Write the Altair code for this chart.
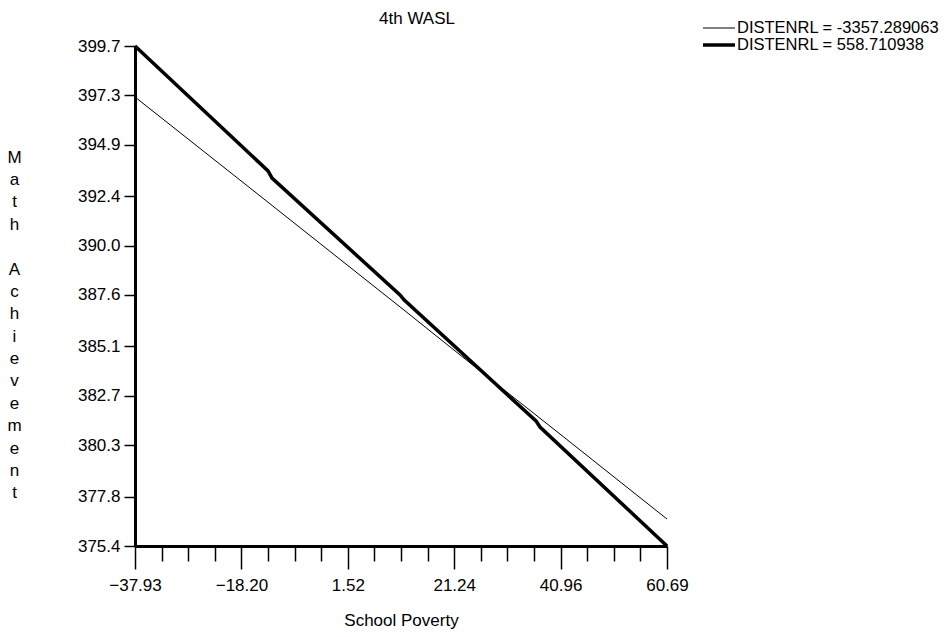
import altair as alt
import pandas as pd

# ---- data ----
series_labels = ["DISTENRL = -3357.289063", "DISTENRL = 558.710938"]
series_widths = [1, 3.5]

thin_x = [-37.93, -16.61, 11.20, 26.03, 40.86, 60.69]
thin_y = [397.22, 392.80, 387.02, 383.91, 380.84, 376.71]

thick_x = [-37.93, -13.27, -12.53, 11.20, 11.94, 36.40, 37.15, 60.69]
thick_y = [399.70, 393.63, 393.28, 387.60, 387.36, 381.48, 381.18, 375.40]

x_major = [-37.93, -18.20, 1.52, 21.24, 40.96, 60.69]
x_minor = [-33.00, -28.07, -23.14, -13.27, -8.34, -3.41, 6.45, 11.38, 16.31,
           26.17, 31.10, 36.03, 45.89, 50.82, 55.76]
y_ticks = [375.4, 377.8, 380.3, 382.7, 385.1, 387.6, 390.0, 392.4, 394.9, 397.3, 399.7]

title_text = "4th WASL"
x_title = "School Poverty"
y_title = "Math Achievement"

# ---- table ----
rows = []
for i, (x, y) in enumerate(zip(thin_x, thin_y)):
    rows.append({"series": series_labels[0], "poverty": x, "math": y, "order": i})
for i, (x, y) in enumerate(zip(thick_x, thick_y)):
    rows.append({"series": series_labels[1], "poverty": x, "math": y, "order": i})
df = pd.DataFrame(rows)

FONT = "Liberation Sans"
FS = 17
all_x_ticks = sorted(x_major + x_minor)
major_js = "[" + ",".join(str(v) for v in x_major) + "]"

y_title_lines = [c if c != " " else "\u2800" for c in y_title]

lines = alt.Chart(df).mark_line(color="black", strokeCap="butt", strokeJoin="miter").encode(
    x=alt.X("poverty:Q",
            scale=alt.Scale(domain=[x_major[0], x_major[-1]], nice=False, zero=False),
            axis=alt.Axis(
                values=all_x_ticks,
                labelExpr="indexof(" + major_js + ", datum.value) >= 0 ? format(datum.value, '.2f') : ''",
                tickSize={"condition": {"test": "indexof(" + major_js + ", datum.value) >= 0", "value": 23}, "value": 15},
                tickColor="black", tickWidth=1.5,
                domainColor="black", domainWidth=3,
                labelFont=FONT, labelFontSize=FS, labelColor="black",
                labelPadding=8, labelFlush=False, labelOverlap=False,
                title=x_title, titleFont=FONT, titleFontSize=FS, titleFontWeight="normal",
                titleColor="black", titleBaseline="alphabetic", titleY=79,
                grid=False)),
    y=alt.Y("math:Q",
            scale=alt.Scale(domain=[y_ticks[0], y_ticks[-1]], nice=False, zero=False),
            axis=alt.Axis(
                values=y_ticks, format=".1f",
                tickSize=11, tickColor="black", tickWidth=1.5,
                domainColor="black", domainWidth=3,
                labelFont=FONT, labelFontSize=FS, labelColor="black",
                labelPadding=4, labelOverlap=False, labelFlush=False,
                title=y_title_lines, titleAngle=0, titleFont=FONT, titleFontSize=FS,
                titleFontWeight="normal", titleColor="black",
                titleAlign="center", titleBaseline="top",
                titleX=-121, titleY=103, titleLineHeight=22.4,
                grid=False)),
    strokeWidth=alt.StrokeWidth("series:N",
            scale=alt.Scale(domain=series_labels, range=series_widths),
            legend=None),
    detail="series:N",
    order="order:Q",
)

title_mark = alt.Chart(pd.DataFrame({"t": [title_text]})).mark_text(
    font=FONT, fontSize=FS, color="black", align="center", baseline="alphabetic"
).encode(text="t:N", x=alt.value(282), y=alt.value(-22))

legend_layers = []
for i, (lab, w) in enumerate(zip(series_labels, series_widths)):
    ldf = pd.DataFrame({"label": [lab]})
    ypos = -18 + 17 * i
    legend_layers.append(
        alt.Chart(ldf).mark_rule(color="black", strokeWidth=w, strokeCap="butt").encode(
            x=alt.value(568), x2=alt.value(600), y=alt.value(ypos)))
    legend_layers.append(
        alt.Chart(ldf).mark_text(font=FONT, fontSize=16.5, color="black",
                                 align="left", baseline="middle").encode(
            text="label:N", x=alt.value(602), y=alt.value(ypos)))

chart = alt.layer(lines, title_mark, *legend_layers).properties(
    width=532, height=500,
    autosize=alt.AutoSizeParams(type="none"),
    padding={"left": 127, "top": 38, "right": 272, "bottom": 83},
    background="white",
).configure_view(stroke=None)

chart.save("out.html", embed_options={"renderer": "svg", "actions": False})
